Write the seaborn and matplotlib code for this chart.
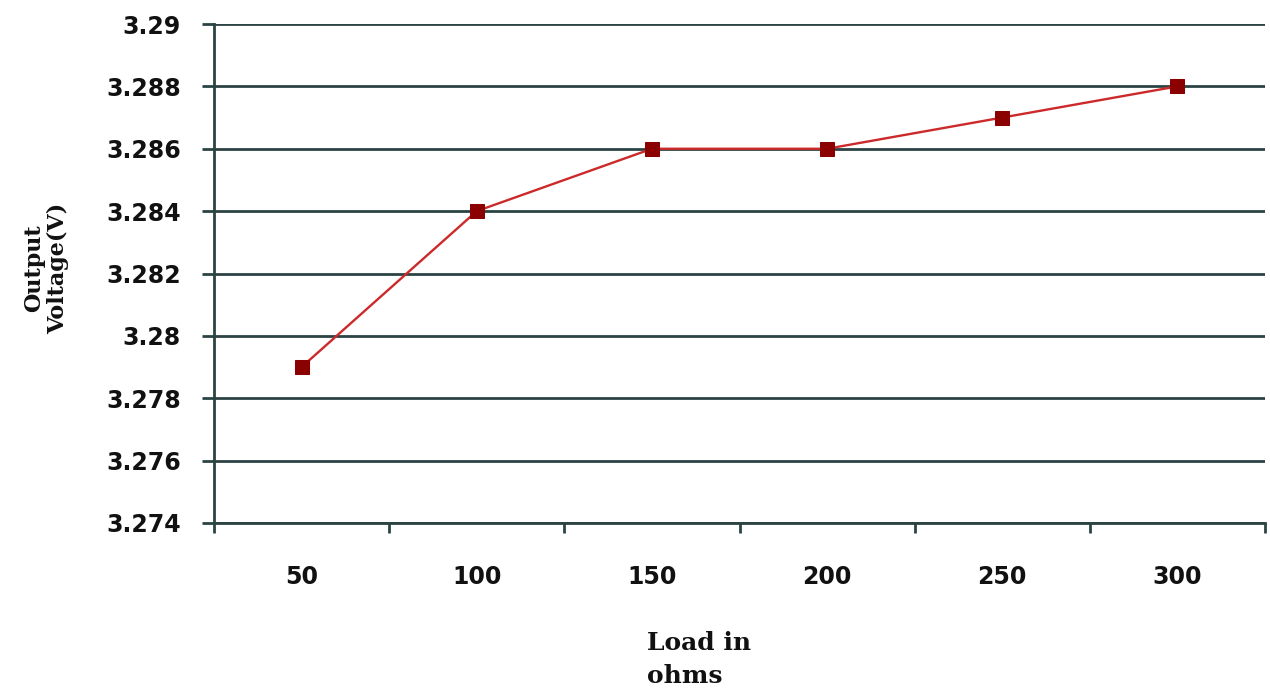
import matplotlib
matplotlib.use("Agg")
import matplotlib.pyplot as plt
from matplotlib.ticker import FixedLocator
import seaborn as sns
import pandas as pd

# Load resistance (ohms) and measured output voltage (V)
loads = ["50", "100", "150", "200", "250", "300"]
voltage = [3.279, 3.284, 3.286, 3.286, 3.287, 3.288]
y_ticks = [3.274, 3.276, 3.278, 3.28, 3.282, 3.284, 3.286, 3.288, 3.29]
y_tick_labels = ["3.274", "3.276", "3.278", "3.28", "3.282", "3.284", "3.286", "3.288", "3.29"]

df = pd.DataFrame({"load": loads, "voltage": voltage})

sns.set_theme(style="white")
plt.rcParams["font.family"] = ["DejaVu Sans"]

grid_color = "#2c4343"
fig = plt.figure(figsize=(12.7, 6.93), dpi=100)
ax = fig.add_axes([214 / 1270, 1 - 523 / 693, (1265 - 214) / 1270, (523 - 24) / 693])

sns.lineplot(data=df, x="load", y="voltage", ax=ax, sort=False,
             color="#cc2a2a", linewidth=1.7, marker="s", markersize=10.5,
             markerfacecolor="#8b0000", markeredgecolor="#8b0000", zorder=5)

n = len(loads)
ax.set_xlim(-0.5, n - 0.5)
ax.set_ylim(y_ticks[0], y_ticks[-1])

# Horizontal gridlines at every y tick
ax.yaxis.set_major_locator(FixedLocator(y_ticks))
ax.set_yticklabels(y_tick_labels)
ax.grid(axis="y", color=grid_color, linewidth=2.0)
ax.grid(axis="x", visible=False)
ax.set_axisbelow(True)

# Category labels centred, tick marks on category boundaries
ax.set_xticks(range(n))
ax.set_xticklabels(loads)
ax.xaxis.set_minor_locator(FixedLocator([i - 0.5 for i in range(n + 1)]))
ax.tick_params(axis="x", which="major", length=0, pad=30, labelsize=17, labelcolor="#111111")
ax.tick_params(axis="x", which="minor", bottom=True, length=7, width=2, color=grid_color)
ax.tick_params(axis="y", which="major", left=True, length=9, width=2, color=grid_color,
               labelsize=17, labelcolor="#111111", pad=15)
for lab in ax.get_xticklabels() + ax.get_yticklabels():
    lab.set_fontweight("bold")

for side in ["top", "right"]:
    ax.spines[side].set_visible(False)
for side in ["left", "bottom"]:
    ax.spines[side].set_color(grid_color)
    ax.spines[side].set_linewidth(2.0)

ax.set_xlabel("")
ax.set_ylabel("")

fig.text(46 / 1270, 1 - 268 / 693, "Output\nVoltage(V)", rotation=90,
         ha="center", va="center", multialignment="center",
         family="DejaVu Serif", fontweight="bold", fontsize=16, color="#111111",
         linespacing=1.1)
fig.text(647 / 1270, 1 - 631 / 693, "Load in\nohms", ha="left", va="top",
         family="DejaVu Serif", fontweight="bold", fontsize=18, color="#111111",
         linespacing=1.45)

fig.savefig("out.png", dpi=100)
